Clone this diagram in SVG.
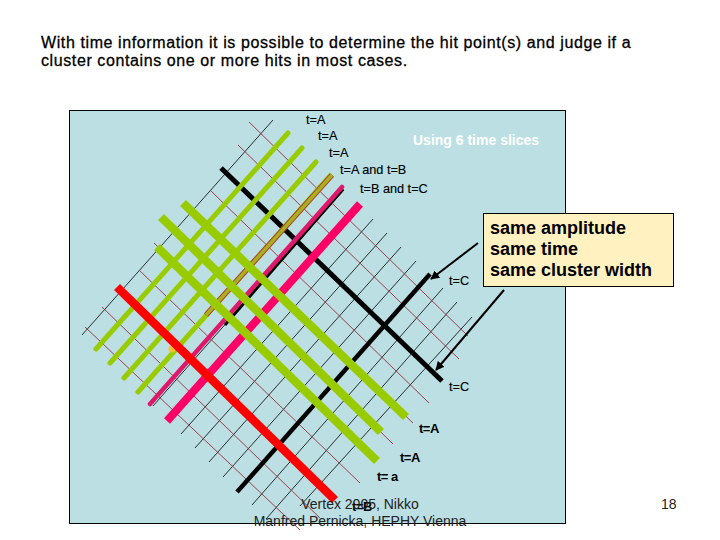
<svg xmlns="http://www.w3.org/2000/svg" width="720" height="540" viewBox="0 0 720 540">
<style>
text{font-family:"Liberation Sans",Arial,sans-serif;fill:#000}
.title{font-size:16px;letter-spacing:.6px;stroke:#000;stroke-width:.3px}
.lab{font-size:12.7px;stroke:#000;stroke-width:.15px}
.bl{font-size:13px;font-weight:bold}
.foot{font-size:14px;fill:#222}
.tb{stroke:#000;stroke-width:.8;fill:none}
.tr{stroke:#9a2c3a;stroke-width:.9;fill:none}
.ln{fill:none;stroke-linecap:butt}
</style>
<defs>
<marker id="ah" viewBox="0 0 10 10" refX="9" refY="5" markerWidth="4.500" markerHeight="4.500" orient="auto"><path d="M0 0L10 5L0 10Z" fill="#000"/></marker>
</defs>
<rect width="720" height="540" fill="#fff"/>
<rect id="panel" x="69.500" y="110.500" width="496" height="413" fill="#bbdfe3" stroke="#000" stroke-width="1"/>
<g id="grid-thin">
<path class="tb" d="M273 120L82 335M287 134L96 349M302 148L110 363M316 162L124 378M330 176L138 392M344 190L153 406M358 205L167 420M373 219L181 434M387 233L195 448M401 247L209 462M416 261L223 477M443 288L252 505M457 302L266 519M472 317L300 506"/>
<path class="tr" d="M249 122L468 336M238 145L459 359M210 190L429 403M183 203L413 423M161 217L393 444M154 243L377 461M139 270L360 483M102 307L320 518M85 327L300 530"/>
</g>
<g id="connectors">
<path class="ln" stroke="#000" stroke-width="5" d="M221 168L442 381"/>
<path class="ln" stroke="#000" stroke-width="4.500" d="M430 274L237 492"/>
<g stroke-linecap="round" fill="none">
<path stroke="#99cc00" stroke-width="5" d="M288 133L96 349M302 148L110 363M316 162L124 378M330 176L138 392"/>
<path stroke="#b03a2e" stroke-width="5.500" stroke-linecap="butt" d="M332 175L206 315"/>
<path stroke="#a8b020" stroke-width="3.500" stroke-linecap="butt" d="M332 175L206 315"/>
<path stroke="#000" stroke-width="3" stroke-linecap="butt" d="M343 189L225 325"/>
<path stroke="#e0186c" stroke-width="4.500" d="M342 187L150 404"/>
</g>
<path class="ln" stroke="#ff0066" stroke-width="8" d="M360 204L167 421"/>
<g class="ln" stroke="#99cc00" stroke-width="8.500">
<path d="M183 203L406 417"/><path d="M161 217L381 432"/><path d="M157 247L377 461"/>
</g>
<circle cx="172" cy="349" r="3.500" fill="#f2c230"/>
<path class="ln" stroke="#ff0000" stroke-width="8.500" d="M117 287L335 500"/>
<path class="ln" stroke="#000" stroke-width="2" marker-end="url(#ah)" d="M478 243L431 279"/>
<path class="ln" stroke="#000" stroke-width="2" marker-end="url(#ah)" d="M504 290L436 370"/>
</g>
<text class="title" x="41" y="48">With time information it is possible to determine the hit point(s) and judge if a</text>
<text class="title" x="41" y="66">cluster contains one or more hits in most cases.</text>
<g id="labels">
<text class="lab" x="306" y="124">t=A</text>
<text class="lab" x="318" y="140">t=A</text>
<text class="lab" x="329" y="157">t=A</text>
<text class="lab" x="340" y="174">t=A and t=B</text>
<text class="lab" x="360" y="193">t=B and t=C</text>
<text class="lab" x="449" y="285">t=C</text>
<text class="lab" x="449" y="391">t=C</text>
<text class="bl" x="419" y="433" letter-spacing="-.5">t=A</text>
<text class="bl" x="400" y="462" letter-spacing="-.5">t=A</text>
<text class="bl" x="377" y="481" letter-spacing="-.5">t= a</text>
<text class="bl" x="352" y="511" letter-spacing="-.5">t=B</text>
<text x="413" y="145" font-size="14" font-weight="bold" style="fill:#fff">Using 6 time slices</text>
</g>
<g id="callout">
<rect x="483.500" y="213.500" width="190" height="73" fill="#fff2c0" stroke="#000" stroke-width="1"/>
<text x="490" y="234" font-size="18" font-weight="bold">same amplitude</text>
<text x="490" y="255" font-size="18" font-weight="bold">same time</text>
<text x="490" y="276" font-size="18" font-weight="bold">same cluster width</text>
</g>
<g id="footer">
<text class="foot" x="360" y="509" text-anchor="middle">Vertex 2005, Nikko</text>
<text class="foot" x="360" y="526" text-anchor="middle">Manfred Pernicka, HEPHY Vienna</text>
<text class="foot" x="661" y="509">18</text>
</g>
</svg>
